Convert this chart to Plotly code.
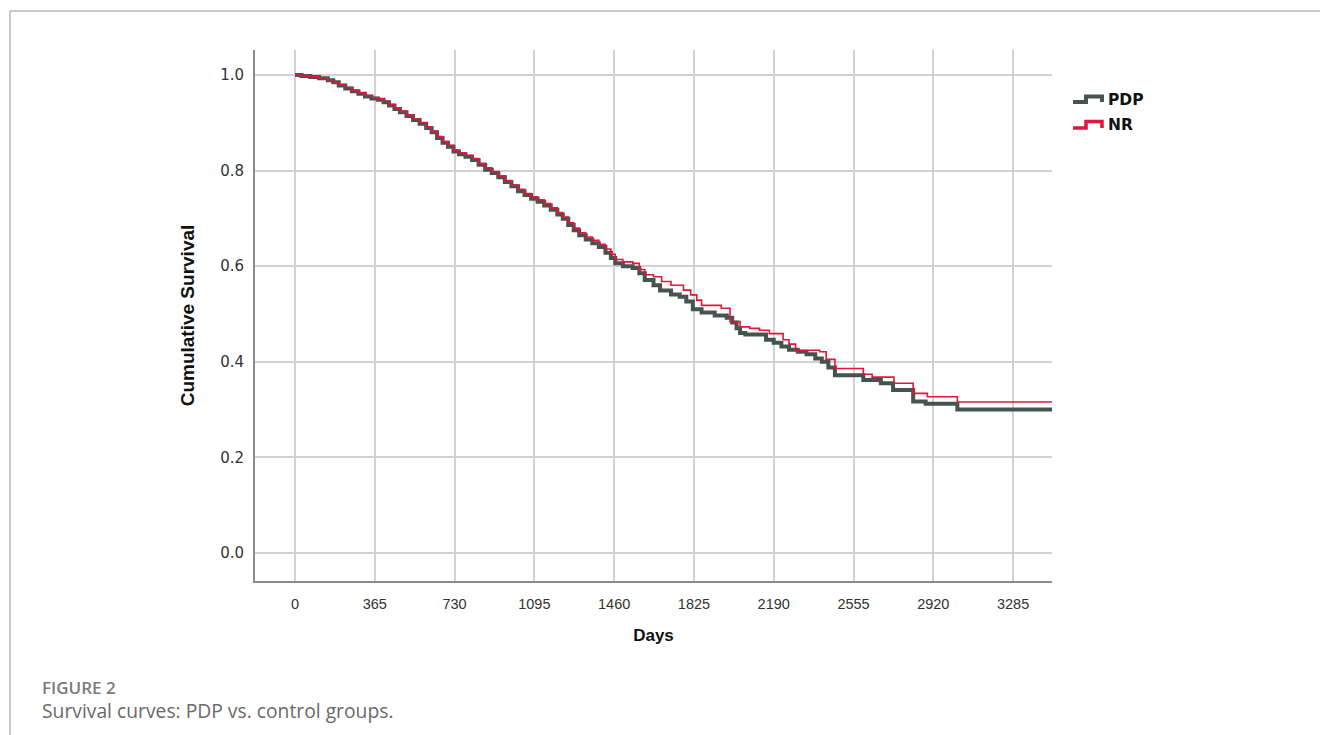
import plotly.graph_objects as go

# ---------------- data ----------------
group_names = ["PDP", "NR"]

pdp_days = [0, 30, 70, 110, 150, 175, 200, 230, 260, 290,
            320, 350, 380, 405, 430, 455, 480, 510, 540, 570,
            600, 625, 650, 675, 700, 725, 750, 780, 810, 840,
            870, 900, 930, 960, 990, 1020, 1050, 1080, 1110, 1140,
            1170, 1200, 1225, 1250, 1275, 1300, 1330, 1360, 1390, 1420,
            1445, 1465, 1500, 1545, 1575, 1600, 1640, 1670, 1720, 1760,
            1790, 1820, 1860, 1920, 1975, 2000, 2020, 2036, 2060, 2155,
            2190, 2225, 2260, 2300, 2340, 2380, 2410, 2440, 2470, 2600,
            2680, 2736, 2828, 2885, 3030]
pdp_surv = [1.0, .998, .996, .993, .989, .985, .978, .972, .966, .961,
            .955, .951, .948, .943, .936, .929, .922, .914, .906, .898,
            .889, .880, .868, .858, .850, .840, .834, .829, .822, .812,
            .802, .795, .786, .776, .767, .757, .749, .741, .735, .727,
            .718, .708, .699, .686, .675, .665, .656, .648, .640, .628,
            .617, .606, .600, .596, .585, .571, .560, .549, .541, .536,
            .526, .510, .503, .497, .492, .482, .470, .460, .457, .446,
            .440, .432, .425, .421, .416, .407, .400, .388, .372, .362,
            .355, .341, .317, .312, .300]

nr_days = [0, 30, 70, 110, 150, 175, 200, 230, 260, 290,
           320, 350, 380, 405, 430, 455, 480, 510, 540, 570,
           600, 625, 650, 675, 700, 725, 750, 780, 810, 840,
           870, 900, 930, 960, 990, 1020, 1050, 1080, 1110, 1140,
           1170, 1200, 1225, 1250, 1275, 1300, 1330, 1360, 1390, 1420,
           1445, 1465, 1500, 1545, 1575, 1600, 1640, 1677, 1720, 1777,
           1810, 1838, 1860, 1950, 1990, 2036, 2080, 2125, 2170, 2233,
           2260, 2290, 2400, 2430, 2470, 2600, 2640, 2740, 2828, 2893,
           3030]
nr_surv = [1.0, .998, .997, .994, .990, .986, .980, .974, .968, .963,
           .957, .953, .950, .945, .938, .931, .924, .916, .908, .900,
           .891, .882, .871, .861, .853, .843, .837, .832, .825, .815,
           .806, .798, .789, .779, .770, .761, .752, .745, .739, .731,
           .722, .712, .703, .691, .680, .670, .661, .654, .646, .636,
           .625, .614, .609, .606, .593, .582, .578, .568, .560, .550,
           .540, .529, .518, .512, .484, .473, .470, .466, .459, .446,
           .437, .424, .421, .405, .386, .374, .368, .355, .334, .327,
           .316]

last_followup = 3470

x_tick_vals = [0, 365, 730, 1095, 1460, 1825, 2190, 2555, 2920, 3285]
y_tick_vals = [0.0, 0.2, 0.4, 0.6, 0.8, 1.0]
y_tick_text = ["0.0", "0.2", "0.4", "0.6", "0.8", "1.0"]

x_title = "Days"
y_title = "Cumulative Survival"
caption_label = "FIGURE 2"
caption_text = "Survival curves: PDP vs. control groups."

assert len(pdp_days) == len(pdp_surv)
assert len(nr_days) == len(nr_surv)

# ---------------- styling ----------------
W, H = 1320, 735
L, R, T, B = 255, 1052, 50, 581  # plot area in pixels
PDP_COLOR = "#46544e"
NR_COLOR = "#e4143c"
GRID = "#d2d2d2"
AXIS = "#8c8c8c"


def pxx(x):
    return (x - L) / (R - L)


def pxy(y):
    return (B - y) / (B - T)


fig = go.Figure()
fig.add_trace(go.Scatter(
    x=pdp_days + [last_followup], y=pdp_surv + [pdp_surv[-1]],
    mode="lines", name=group_names[0],
    line=dict(shape="hv", color=PDP_COLOR, width=4), showlegend=False))
fig.add_trace(go.Scatter(
    x=nr_days + [last_followup], y=nr_surv + [nr_surv[-1]],
    mode="lines", name=group_names[1],
    line=dict(shape="hv", color=NR_COLOR, width=1.6), showlegend=False))

fig.update_layout(
    width=W, height=H,
    margin=dict(l=L, r=W - R, t=T, b=H - B, pad=0),
    paper_bgcolor="white", plot_bgcolor="white",
    xaxis=dict(range=[-183, 3463], tickvals=x_tick_vals,
               ticktext=[str(v) for v in x_tick_vals],
               showgrid=True, gridcolor=GRID, gridwidth=1.5,
               showline=True, linecolor=AXIS, linewidth=2, zeroline=False,
               ticks="", ticklabelstandoff=9,
               tickfont=dict(family="Arial", size=14.5, color="#333"),
               title=dict(text="<b>" + x_title + "</b>", standoff=18,
                          font=dict(family="Arial", size=17, color="#111"))),
    yaxis=dict(range=[-0.0586, 1.0523], tickvals=y_tick_vals, ticktext=y_tick_text,
               showgrid=True, gridcolor=GRID, gridwidth=1.5,
               showline=True, linecolor=AXIS, linewidth=2, zeroline=False,
               ticks="", ticklabelstandoff=6,
               tickfont=dict(family="DejaVu Sans", size=15, color="#333"),
               title=dict(text="<b>" + y_title + "</b>", standoff=20,
                          font=dict(family="Arial", size=19, color="#111"))),
)

# custom legend with step-shaped icons
legend_rows = [(group_names[0], PDP_COLOR, 4, 102, 96.5), (group_names[1], NR_COLOR, 3.5, 128, 121.5)]
for name, color, wdt, ylow, yhigh in legend_rows:
    x1, x2, x3 = pxx(1073), pxx(1086), pxx(1102)
    path = (f"M {x1},{pxy(ylow)} L {x2},{pxy(ylow)} L {x2},{pxy(yhigh)} "
            f"L {x3},{pxy(yhigh)} L {x3},{pxy(ylow)}")
    fig.add_shape(type="path", xref="paper", yref="paper", path=path,
                  line=dict(color=color, width=wdt))
    fig.add_annotation(xref="paper", yref="paper", x=pxx(1106), y=pxy((ylow + yhigh) / 2 + 0.5),
                       text="<b>" + name + "</b>", showarrow=False, xanchor="left", yanchor="middle",
                       font=dict(family="DejaVu Sans", size=15.5, color="#111"))

# figure frame (top and left border)
fig.add_shape(type="line", xref="paper", yref="paper",
              x0=pxx(10), x1=pxx(1325), y0=pxy(11), y1=pxy(11),
              line=dict(color="#b8b8b8", width=1.5))
fig.add_shape(type="line", xref="paper", yref="paper",
              x0=pxx(10), x1=pxx(10), y0=pxy(11), y1=pxy(740),
              line=dict(color="#b8b8b8", width=1.5))

# caption
fig.add_annotation(xref="paper", yref="paper", x=pxx(40), y=pxy(687),
                   text=caption_label, showarrow=False, xanchor="left", yanchor="middle",
                   font=dict(family="Open Sans", size=17, color="#7a7a7a", weight=600))
fig.add_annotation(xref="paper", yref="paper", x=pxx(40), y=pxy(710),
                   text=caption_text, showarrow=False, xanchor="left", yanchor="middle",
                   font=dict(family="Open Sans", size=19.3, color="#6a6a6a"))

fig.write_html("out.html", config={"displayModeBar": False},
               post_script="document.body.style.margin='0';document.body.style.overflow='hidden';")
